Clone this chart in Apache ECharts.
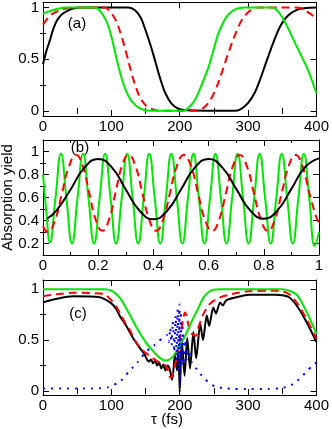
<!DOCTYPE html>
<html><head><meta charset="utf-8">
<script src="https://cdn.jsdelivr.net/npm/echarts@6/dist/echarts.min.js"></script>
<style>html,body{margin:0;padding:0;background:#fff}#c{width:332px;height:429px}</style>
</head><body><div id="c"></div>
<script>
// ---------- Panel (a): tau (fs) vs yield ----------
const aBlack = [[0,0.45],[5,0.58],[10,0.68],[15,0.79],[20,0.87],[27,0.93],[35,0.965],[44,0.99],[55,1.0],[125,1.0],[135,0.97],[143,0.9],[150,0.78],[158,0.62],[165,0.46],[172,0.3],[179,0.17],[188,0.07],[198,0.02],[210,0.005],[280,0.0],[290,0.02],[300,0.076],[310,0.18],[319,0.33],[328,0.5],[338,0.68],[348,0.83],[358,0.92],[372,0.98],[385,0.995],[400,1.0]];
const aRed = [[0,0.835],[5,0.88],[10,0.92],[20,0.96],[30,0.985],[45,1.0],[90,1.0],[97,0.97],[107,0.87],[114,0.74],[121,0.58],[131,0.33],[141,0.14],[148,0.07],[155,0.03],[170,0.0],[225,0.0],[233,0.02],[242,0.076],[252,0.2],[261,0.36],[268,0.5],[276,0.65],[283,0.77],[290,0.87],[298,0.94],[305,0.98],[315,1.0],[370,1.0],[378,0.99],[386,0.96],[393,0.93],[400,0.88]];
const aGreen = [[0,0.94],[10,0.965],[20,0.985],[35,1.0],[75,1.0],[82,0.98],[92.5,0.87],[100,0.72],[107,0.52],[114,0.34],[121,0.2],[128,0.11],[136,0.05],[145,0.015],[155,0.0],[205,0.0],[213,0.03],[222.7,0.11],[232,0.25],[242,0.42],[249,0.58],[256,0.74],[264,0.86],[271,0.93],[278,0.97],[285,0.99],[295,1.0],[335,1.0],[343,0.97],[353,0.87],[362,0.75],[372,0.61],[386,0.42],[393,0.3],[400,0.17]];
const aXTicks = [0,100,200,300,400], aXMinor = [50,150,250,350];
const aYTicks = [0,0.5,1], aYMinor = [0.25,0.75];

// ---------- Panel (b) ----------
const bBlack = [[0.015,0.415],[0.05,0.49],[0.1,0.67],[0.15,0.86],[0.2,0.935],[0.25,0.86],[0.3,0.67],[0.35,0.485],[0.4,0.41],[0.45,0.485],[0.5,0.67],[0.55,0.86],[0.6,0.935],[0.65,0.86],[0.7,0.675],[0.75,0.49],[0.8,0.415],[0.85,0.49],[0.9,0.675],[0.95,0.865],[1.0,0.94]];
const bRed = [[0,0.35],[0.017,0.30],[0.043,0.40],[0.0685,0.635],[0.094,0.87],[0.12,0.97],[0.144,0.873],[0.1675,0.64],[0.191,0.407],[0.215,0.31],[0.239,0.407],[0.2625,0.64],[0.286,0.873],[0.31,0.97],[0.335,0.873],[0.36,0.64],[0.385,0.407],[0.41,0.31],[0.435,0.407],[0.46,0.64],[0.485,0.873],[0.51,0.97],[0.536,0.873],[0.5615,0.64],[0.587,0.407],[0.613,0.31],[0.638,0.407],[0.663,0.64],[0.688,0.873],[0.713,0.97],[0.7385,0.873],[0.764,0.64],[0.7895,0.407],[0.815,0.31],[0.84,0.407],[0.865,0.64],[0.89,0.873],[0.915,0.97],[0.94,0.873],[0.965,0.64],[0.99,0.43],[1.0,0.38]];
const bGreen = [[0,0.80],[0.012,0.48],[0.025,0.21],[0.045,0.59],[0.065,0.98],[0.085,0.59],[0.105,0.2],[0.125,0.59],[0.145,0.98],[0.165,0.59],[0.185,0.2],[0.205,0.59],[0.225,0.98],[0.245,0.59],[0.265,0.2],[0.285,0.59],[0.305,0.98],[0.325,0.59],[0.345,0.2],[0.365,0.59],[0.385,0.98],[0.405,0.59],[0.425,0.2],[0.445,0.59],[0.465,0.98],[0.485,0.59],[0.505,0.2],[0.525,0.59],[0.545,0.98],[0.565,0.59],[0.585,0.2],[0.605,0.59],[0.625,0.98],[0.645,0.59],[0.665,0.2],[0.685,0.59],[0.705,0.98],[0.725,0.59],[0.745,0.2],[0.765,0.59],[0.785,0.98],[0.805,0.59],[0.825,0.2],[0.845,0.59],[0.865,0.98],[0.885,0.59],[0.905,0.2],[0.925,0.59],[0.945,0.98],[0.965,0.59],[0.985,0.18],[1.0,0.3]];
const bXTicks = [0,0.2,0.4,0.6,0.8,1], bXMinor = [0.1,0.3,0.5,0.7,0.9];
const bYTicks = [0.2,0.4,0.6,0.8,1], bYMinor = [0.3,0.5,0.7,0.9];

// ---------- Panel (c) ----------
const cBlack = [[0,0.87],[20,0.905],[44,0.93],[83,0.92],[100,0.86],[107,0.806],[112,0.74],[121.5,0.643],[131,0.528],[140.7,0.43],[148,0.364],[152,0.31],[155,0.29],[158,0.31],[161,0.27],[164,0.30],[167,0.25],[170,0.28],[173,0.22],[176,0.26],[179,0.20],[182,0.25],[185,0.22],[189,0.11],[193,0.36],[196,0.20],[198,0.42],[200,-0.01],[203,0.50],[207,0.15],[211,0.52],[215,0.22],[220,0.58],[224,0.32],[230,0.66],[234,0.50],[239.5,0.74],[243,0.64],[249,0.82],[253,0.76],[259,0.87],[263,0.84],[268,0.89],[283,0.92],[302,0.944],[340,0.945],[350,0.94],[360,0.92],[372,0.83],[386,0.67],[400,0.48]];
const cRed = [[0,0.93],[20,0.95],[44,0.964],[88,0.955],[100,0.89],[107,0.83],[112,0.77],[120,0.67],[126,0.61],[136,0.48],[145.5,0.40],[155,0.35],[163,0.31],[170,0.28],[179,0.25],[183,0.2],[186.5,0.13],[190,0.17],[194,0.28],[198,0.42],[201,0.545],[206,0.74],[208,0.77],[211,0.7],[215.5,0.58],[220,0.55],[223,0.54],[228,0.64],[234.7,0.757],[244,0.855],[259,0.92],[278,0.954],[297,0.977],[336,0.985],[350,0.98],[360,0.95],[372,0.86],[386,0.70],[400,0.51]];
const cGreen = [[0,1.0],[90,1.0],[100,0.985],[112,0.92],[126,0.76],[138,0.61],[150,0.48],[160,0.40],[170,0.33],[179,0.30],[189,0.33],[198.5,0.43],[208,0.545],[218,0.69],[227.5,0.82],[235,0.92],[242,0.97],[249,0.995],[260,1.0],[350,1.0],[360,0.985],[372,0.94],[386,0.77],[400,0.56]];
const cBlue = [[0,0.025],[12,0.025],[24,0.025],[36,0.025],[48,0.025],[60,0.025],[72,0.025],[84,0.027],[95,0.035],[102,0.053],[108,0.075],[114,0.10],[120,0.14],[125,0.19],[132,0.235],[138,0.28],[144,0.33],[150,0.38],[156,0.415],[162,0.445],[170,0.495],[176,0.52],[181,0.55],[184,0.48],[186,0.62],[188,0.45],[190,0.68],[192,0.38],[194,0.74],[195.5,0.30],[197,0.80],[198.5,0.20],[199.5,0.85],[200.5,0.05],[201.5,0.78],[203,0.25],[204.5,0.62],[206,0.30],[208,0.50],[210,0.30],[213,0.40],[217,0.29],[222.7,0.233],[230,0.167],[237,0.118],[244,0.07],[251.6,0.046],[263.6,0.027],[280,0.02],[300,0.02],[330,0.02],[345,0.025],[357,0.04],[365,0.065],[372,0.10],[380,0.15],[386.5,0.20],[393,0.24],[400,0.28]];
const cXTicks = [0,100,200,300,400], cXMinor = [50,150,250,350];
const cYTicks = [0,0.5,1], cYMinor = [0.25,0.75];

const panelLabels = ['(a)','(b)','(c)'];
const yName = 'Absorption yield';
const xName = 'τ (fs)';

// ---------- layout ----------
const FONT = 'Liberation Sans, Arial, sans-serif';
const GREEN = '#00e600', RED = '#ff0000', BLUE = '#0000ff', BLACK = '#000000';
const grids = [
  {left: 43, width: 276, top: 1, height: 115},
  {left: 43, width: 276, top: 140, height: 115},
  {left: 43, width: 276, top: 280, height: 115}
];
const ranges = [
  {x:[0,400], y:[-0.05,1.05], xt:aXTicks, xm:aXMinor, yt:aYTicks, ym:aYMinor},
  {x:[0,1], y:[0.1,1.1], xt:bXTicks, xm:bXMinor, yt:bYTicks, ym:bYMinor},
  {x:[0,400], y:[-0.04,1.09], xt:cXTicks, xm:cXMinor, yt:cYTicks, ym:cYMinor}
];
const fmt = v => String(Math.round(v*100)/100);
function mkAxes(g, dim) {
  const r = ranges[g];
  const mm = dim === 'x' ? r.x : r.y;
  const maj = dim === 'x' ? r.xt : r.yt;
  const mnr = dim === 'x' ? r.xm : r.ym;
  const pos = dim === 'x' ? ['bottom','top'] : ['left','right'];
  const base = {type:'value', gridIndex:g, min:mm[0], max:mm[1], splitLine:{show:false}, minorTick:{show:false}};
  const line = {show:true, onZero:false, lineStyle:{color:'#000', width:1}};
  return [
    Object.assign({}, base, {position:pos[0], axisLine:line,
      axisTick:{show:true, inside:true, length:6, customValues:maj, lineStyle:{color:'#000'}},
      axisLabel:{show:true, customValues:maj, formatter:fmt, color:'#000', fontSize:15, fontFamily:FONT, margin: dim==='x'?3:4}}),
    Object.assign({}, base, {position:pos[0], axisLine:{show:false},
      axisTick:{show:true, inside:true, length:3, customValues:mnr, lineStyle:{color:'#000'}}, axisLabel:{show:false}}),
    Object.assign({}, base, {position:pos[1], axisLine:line,
      axisTick:{show:true, inside:true, length:6, customValues:maj, lineStyle:{color:'#000'}}, axisLabel:{show:false}}),
    Object.assign({}, base, {position:pos[1], axisLine:{show:false},
      axisTick:{show:true, inside:true, length:3, customValues:mnr, lineStyle:{color:'#000'}}, axisLabel:{show:false}})
  ];
}
const xAxis = [], yAxis = [];
for (let g = 0; g < 3; g++) { xAxis.push(...mkAxes(g,'x')); yAxis.push(...mkAxes(g,'y')); }

function ser(g, data, color, type, width, smooth, z) {
  return {type:'line', xAxisIndex:4*g, yAxisIndex:4*g, data:data, showSymbol:false, symbol:'none',
    smooth:smooth, animation:false, silent:true, z:z||2,
    lineStyle:{color:color, width:width, type:type, cap:'butt', join:'round'}};
}
const series = [
  ser(0, aBlack, BLACK, 'solid', 2, 0.35, 3),
  ser(0, aRed, RED, [8,5], 2, 0.35, 4),
  ser(0, aGreen, GREEN, 'solid', 2, 0.35, 5),
  ser(1, bGreen, GREEN, 'solid', 2, 0.5, 3),
  ser(1, bRed, RED, [8,5], 2, 0.5, 4),
  ser(1, bBlack, BLACK, 'solid', 2, 0.5, 5),
  ser(2, cBlack, BLACK, 'solid', 2, 0.25, 3),
  ser(2, cRed, RED, [8,5], 2, 0.3, 4),
  ser(2, cGreen, GREEN, 'solid', 2, 0.3, 5),
  ser(2, cBlue, BLUE, [2,6], 2, 0.15, 6)
];

const txt = (x, y, t, extra) => Object.assign({type:'text', x:x, y:y, z:1,
  style:{text:t, fill:'#000', font:'15px ' + FONT, textAlign:'center', textVerticalAlign:'middle'}}, extra||{});
const graphic = [
  txt(77, 24, panelLabels[0]),
  txt(80, 148, panelLabels[1]),
  txt(78, 314, panelLabels[2]),
  txt(167, 420, xName),
  txt(8, 197.5, yName, {rotation: Math.PI/2})
];

const chart = echarts.init(document.getElementById('c'), null, {renderer:'canvas'});
chart.setOption({animation:false, backgroundColor:'#fff', grid:grids, xAxis:xAxis, yAxis:yAxis, series:series, graphic:graphic});
</script></body></html>
